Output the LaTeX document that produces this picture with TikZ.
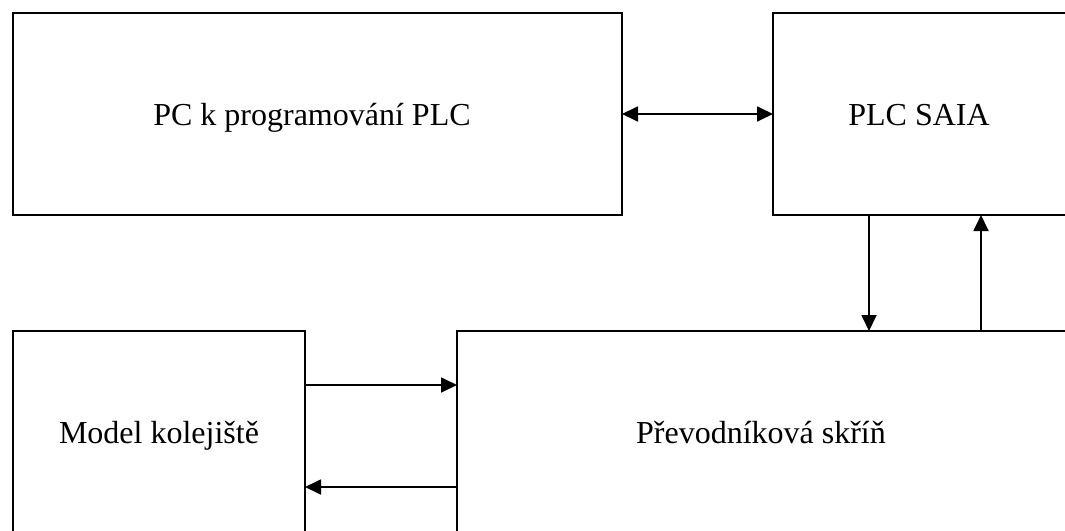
\documentclass[tikz,border=0pt]{standalone}
\usepackage{fontspec}
\setmainfont{Liberation Serif}
\usetikzlibrary{arrows.meta}
\begin{document}
\begin{tikzpicture}[x=1pt,y=-1pt,
  block/.style={draw=black, line width=1.8pt, inner sep=0pt, outer sep=0pt,
    anchor=north west},
  lbl/.style={font=\fontsize{32}{38}\selectfont, inner sep=0pt, anchor=base},
  tip/.style={-{Triangle[length=16pt,width=15pt]}},
  link/.style={line width=1.8pt, tip},
  twoway/.style={line width=1.8pt, {Triangle[length=16pt,width=15pt]}-{Triangle[length=16pt,width=15pt]}}]
  \useasboundingbox (0,0) rectangle (1065,530);
  \clip (0,0) rectangle (1065,530);
  % upper row
  \node[block, minimum width=609pt, minimum height=202pt] (pc) at (13,13) {};
  \node[lbl] (pctxt) at (312,125) {PC k programování PLC};
  \node[block, minimum width=295pt, minimum height=202pt] (plc) at (773,13) {};
  \node[lbl] (plctxt) at (919,125) {PLC SAIA};
  % lower row
  \node[block, minimum width=292pt, minimum height=205pt] (model) at (13,331) {};
  \node[lbl] (modeltxt) at (159,443) {Model kolejiště};
  \node[block, minimum width=640pt, minimum height=205pt] (prev) at (457,331) {};
  \node[lbl] (prevtxt) at (761,443) {Převodníková skříň};
  % connections
  \draw[twoway] (pc.east) -- (plc.west);
  \draw[link] (869,0 |- plc.south) -- (869,0 |- prev.north);
  \draw[link] (981,0 |- prev.north) -- (981,0 |- plc.south);
  \draw[link] (model.east |- 0,385) -- (prev.west |- 0,385);
  \draw[link] (prev.west |- 0,487) -- (model.east |- 0,487);
\end{tikzpicture}
\end{document}
